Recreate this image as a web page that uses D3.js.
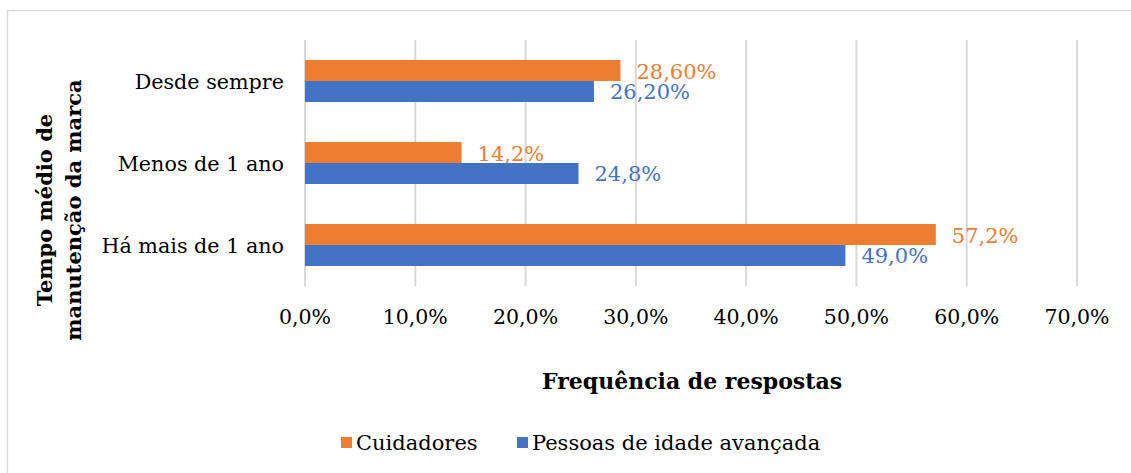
<!DOCTYPE html>
<html>
<head>
<meta charset="utf-8">
<script src="https://cdn.jsdelivr.net/npm/d3@7"></script>
<style>
  body { margin: 0; background: #fff; }
  svg text { font-family: "DejaVu Serif", Georgia, serif; }
</style>
</head>
<body>
<svg id="chart" width="1131" height="473"></svg>
<script>
// categories, top to bottom
const categories = ["Desde sempre", "Menos de 1 ano", "Há mais de 1 ano"]
const series = ["Cuidadores", "Pessoas de idade avançada"]
const cuidadores = [28.6, 14.2, 57.2]
const pessoas = [26.2, 24.8, 49.0]
const cuidadoresLabels = ["28,60%", "14,2%", "57,2%"]
const pessoasLabels = ["26,20%", "24,8%", "49,0%"]
const ticks = [0, 10, 20, 30, 40, 50, 60, 70]
const tickLabels = ["0,0%", "10,0%", "20,0%", "30,0%", "40,0%", "50,0%", "60,0%", "70,0%"]
const colors = ["#ED7D31", "#4472C4"]

const svg = d3.select("#chart")

// chart area border (runs off the right and bottom edges)
svg.append("rect")
  .attr("x", 7.5).attr("y", 10.5)
  .attr("width", 1140).attr("height", 480)
  .attr("fill", "none").attr("stroke", "#D9D9D9").attr("stroke-width", 1.5)

const x = d3.scaleLinear().domain([0, 70]).range([305, 1077])
const y = d3.scaleBand().domain(categories).range([40, 286]).paddingInner(0.488).paddingOuter(0.244)
const ySub = d3.scaleBand().domain(series).range([0, y.bandwidth()])

// gridlines
svg.append("g")
  .selectAll("line")
  .data(ticks).enter()
  .append("line")
  .attr("x1", d => x(d)).attr("x2", d => x(d))
  .attr("y1", 40).attr("y2", 286)
  .attr("stroke", "#D9D9D9").attr("stroke-width", 2)

// tick labels
svg.append("g")
  .selectAll("text")
  .data(ticks).enter()
  .append("text")
  .attr("x", d => x(d)).attr("y", 324)
  .attr("text-anchor", "middle")
  .attr("font-size", 20.5)
  .attr("fill", "#000")
  .text((d, i) => tickLabels[i])

// category labels
svg.append("g")
  .selectAll("text")
  .data(categories).enter()
  .append("text")
  .attr("x", 284)
  .attr("y", d => y(d) + y.bandwidth() / 2 + 8)
  .attr("text-anchor", "end")
  .attr("font-size", 20.7)
  .attr("fill", "#000")
  .text(d => d)

const rows = [
  {name: series[0], values: cuidadores, labels: cuidadoresLabels, color: colors[0]},
  {name: series[1], values: pessoas, labels: pessoasLabels, color: colors[1]}
]

rows.forEach(s => {
  const g = svg.append("g")
  g.selectAll("rect")
    .data(categories).enter()
    .append("rect")
    .attr("x", x(0))
    .attr("y", d => y(d) + ySub(s.name))
    .attr("width", (d, i) => x(s.values[i]) - x(0))
    .attr("height", ySub.bandwidth())
    .attr("fill", s.color)
  g.selectAll("text")
    .data(categories).enter()
    .append("text")
    .attr("x", (d, i) => x(s.values[i]) + 16)
    .attr("y", d => y(d) + ySub(s.name) + ySub.bandwidth() / 2 + 8)
    .attr("font-size", 21)
    .attr("fill", s.color)
    .text((d, i) => s.labels[i])
})

// axis titles
svg.append("text")
  .attr("x", 692).attr("y", 389)
  .attr("text-anchor", "middle")
  .attr("font-size", 22).attr("font-weight", "bold")
  .attr("fill", "#000")
  .text("Frequência de respostas")

const yt = svg.append("text")
  .attr("transform", "translate(0,210) rotate(-90)")
  .attr("text-anchor", "middle")
  .attr("font-size", 21).attr("font-weight", "bold")
  .attr("fill", "#000")
yt.append("tspan").attr("x", 0).attr("y", 52).text("Tempo médio de")
yt.append("tspan").attr("x", 0).attr("y", 81).text("manutenção da marca")

// legend
const legendItems = [
  {name: series[0], color: colors[0], x: 341},
  {name: series[1], color: colors[1], x: 517}
]
const lg = svg.append("g")
  .selectAll("g")
  .data(legendItems).enter()
  .append("g")
lg.append("rect")
  .attr("x", d => d.x).attr("y", 437)
  .attr("width", 11).attr("height", 11)
  .attr("fill", d => d.color)
lg.append("text")
  .attr("x", d => d.x + 15).attr("y", 450)
  .attr("font-size", 21)
  .attr("fill", "#000")
  .text(d => d.name)
</script>
</body>
</html>
